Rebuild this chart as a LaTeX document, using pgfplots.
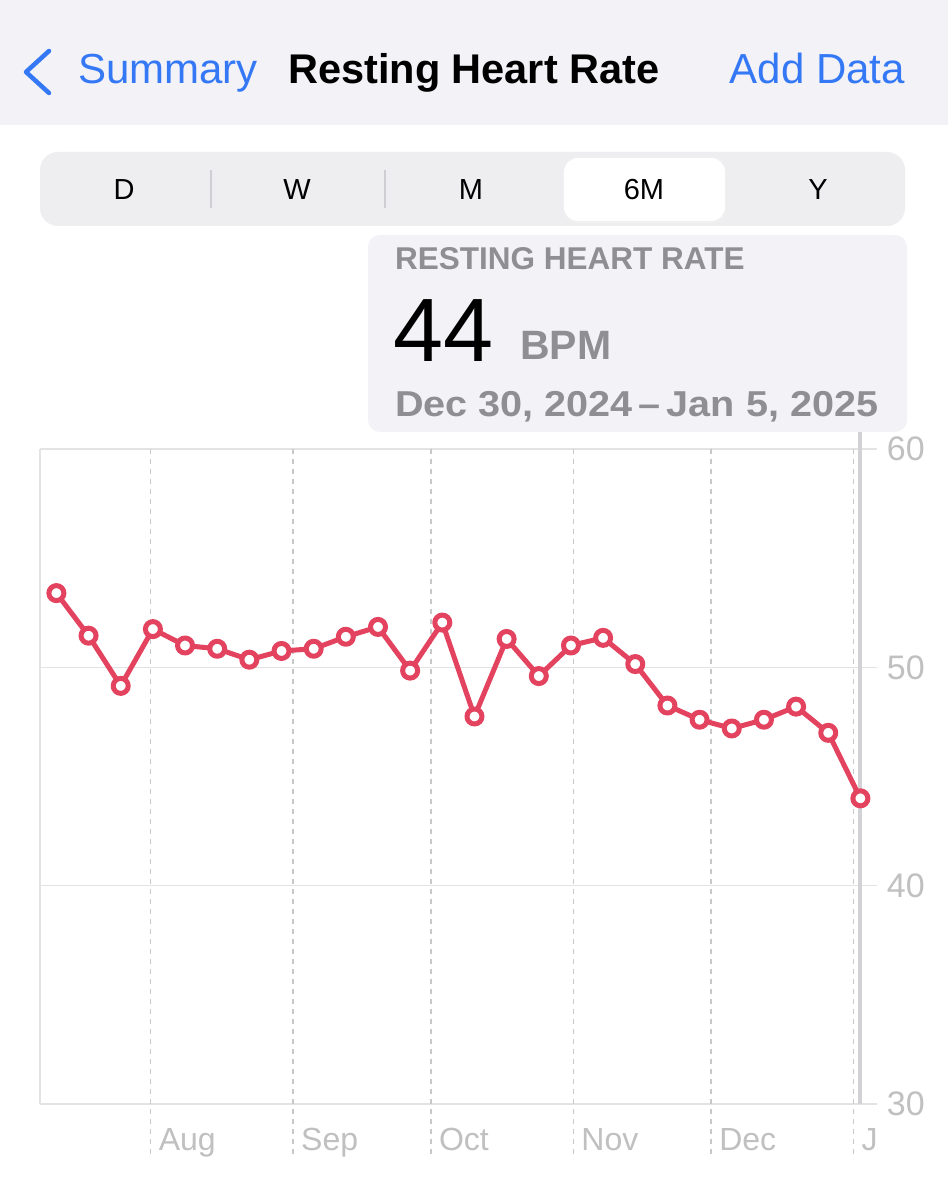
\documentclass[border=0pt]{standalone}
\usepackage{fontspec}
\setmainfont{Liberation Sans}
\newfontfamily\widefont[FakeStretch=1.1]{Liberation Sans}
\usepackage{pgfplots}
\pgfplotsset{compat=1.18}
\definecolor{hdr}{HTML}{F2F2F7}
\definecolor{seg}{HTML}{EEEEF0}
\definecolor{iosblue}{HTML}{3478F6}
\definecolor{heart}{HTML}{E3435E}
\definecolor{txtgray}{HTML}{8E8E93}
\definecolor{lab}{HTML}{C0C0C0}
\definecolor{gridc}{HTML}{E3E3E3}
\definecolor{vgrid}{HTML}{C8C8C8}
\definecolor{selc}{HTML}{D1D1D6}
\definecolor{sepc}{HTML}{CFCFD3}
\begin{document}
\begin{tikzpicture}[x=1pt,y=1pt]
% page
\fill[white] (0,0) rectangle (948,1200);
% header
\fill[hdr] (0,1075) rectangle (948,1200);
\draw[iosblue, line width=4.5pt, line cap=round, line join=round] (49,1149) -- (26,1128) -- (49,1107);
\node[anchor=base west, inner sep=0pt, text=iosblue, font=\fontsize{42}{42}\selectfont] at (78,1116) {Summary};
\node[anchor=base west, inner sep=0pt, text=black, font=\fontsize{41.5}{41.5}\selectfont\bfseries] at (288,1116) {Resting Heart Rate};
\node[anchor=base east, inner sep=0pt, text=iosblue, font=\fontsize{42}{42}\selectfont] at (905,1116) {Add Data};
% segmented control
\fill[seg, rounded corners=18pt] (40,974) rectangle (905,1048);
\fill[black!6, rounded corners=14pt] (563,977) rectangle (726,1042);
\fill[white, rounded corners=14pt] (564,979) rectangle (725,1042);
\draw[sepc, line width=1.5pt] (211,992) -- (211,1030);
\draw[sepc, line width=1.5pt] (385,992) -- (385,1030);
\foreach \xx/\tt in {124/D,297/W,471/M,644/6M,818/Y}{
  \node[anchor=base, inner sep=0pt, font=\fontsize{29}{29}\selectfont] at (\xx,1000) {\tt};
}
% callout
\fill[hdr, rounded corners=12pt] (368,768) rectangle (907,965);
\node[anchor=base west, inner sep=0pt, text=txtgray, font=\fontsize{31.5}{31.5}\selectfont\bfseries] at (395,930) {RESTING HEART RATE};
\node[anchor=base west, inner sep=0pt, text=black, font=\fontsize{90}{90}\selectfont] at (393,838) {44};
\node[anchor=base west, inner sep=0pt, text=txtgray, font=\fontsize{41}{41}\selectfont\bfseries] at (520,840) {BPM};
\node[anchor=base west, inner sep=0pt, text=txtgray, font=\widefont\fontsize{36}{36}\selectfont\bfseries] at (395,783) {Dec 30, 2024\,–\,Jan 5, 2025};
% chart
\begin{axis}[
  at={(40pt,96pt)}, anchor=south west,
  scale only axis, width=836.7pt, height=655pt,
  xmin=6.93, xmax=189.05, ymin=30, ymax=60,
  axis line style={draw=none},
  tick style={draw=none},
  xtick={31,62,92,123,153,184},
  xticklabels={Aug,Sep,Oct,Nov,Dec,J},
  xticklabel style={anchor=base west, xshift=8pt, yshift=-46pt, inner sep=0pt,
    font=\fontsize{32}{32}\selectfont, text=lab},
  ytick={30,40,50,60},
  yticklabel pos=right,
  yticklabel style={anchor=west, inner sep=0pt, xshift=10pt,
    font=\fontsize{34}{34}\selectfont, text=lab},
  ymajorgrids,
  major grid style={draw=gridc, line width=1.5pt},
  clip=false,
  /pgf/number format/assume math mode=true,
]
\draw[gridc, line width=1.5pt] (rel axis cs:0,0) -- (rel axis cs:0,1);
\pgfplotsinvokeforeach{31,62,92,123,153,184}{
  \draw[vgrid, line width=1.5pt, dash pattern=on 5pt off 5pt] (axis cs:#1,60) -- ([yshift=-53pt]axis cs:#1,30);
}
\draw[selc, line width=4pt] (axis cs:185.5,30) -- ([yshift=17pt]axis cs:185.5,60);
\addplot[heart, line width=5pt, line join=round, mark=*, mark size=7.5pt,
  mark options={fill=white, draw=heart, line width=5pt}] table {
x y
10.5 53.4
17.5 51.45
24.5 49.15
31.5 51.75
38.5 51.0
45.5 50.85
52.5 50.35
59.5 50.75
66.5 50.85
73.5 51.4
80.5 51.85
87.5 49.85
94.5 52.05
101.5 47.75
108.5 51.3
115.5 49.6
122.5 51.0
129.5 51.35
136.5 50.15
143.5 48.25
150.5 47.6
157.5 47.2
164.5 47.6
171.5 48.2
178.5 47.0
185.5 44.0
};
\end{axis}
\pgfresetboundingbox
\useasboundingbox (0,0) rectangle (948,1200);
\end{tikzpicture}
\end{document}
